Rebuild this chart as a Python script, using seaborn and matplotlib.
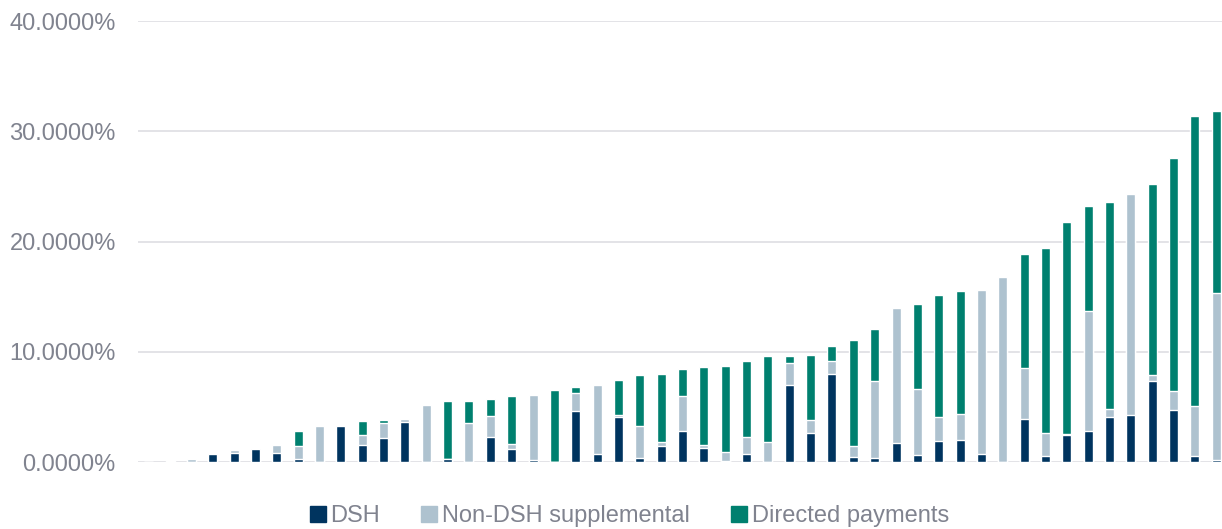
import numpy as np
import pandas as pd
import seaborn as sns
import matplotlib.pyplot as plt
import matplotlib.ticker as ticker
from matplotlib.patches import Patch

# Share of payments by component (percent), one entry per state, sorted by total
dsh = [0, 0, 0, 0.78, 0.87, 1.20, 0.82, 0.27, 0, 3.29,
       1.57, 2.18, 3.63, 0, 0.33, 0, 2.33, 1.21, 0.24, 0,
       4.65, 0.75, 4.08, 0.36, 1.51, 2.84, 1.30, 0.15, 0.75, 0.05,
       6.98, 2.69, 7.98, 0.48, 0.42, 1.72, 0.66, 1.93, 2.05, 0.78,
       0, 3.90, 0.60, 2.45, 2.84, 4.11, 4.29, 7.35, 4.77, 0.60,
       0.24]
non_dsh = [0, 0.10, 0.30, 0, 0.25, 0.04, 0.78, 1.21, 3.26, 0,
           0.90, 1.42, 0.27, 5.20, 0, 3.56, 1.87, 0.45, 5.84, 0,
           1.61, 6.23, 0.21, 2.93, 0.30, 3.17, 0.27, 0.79, 1.55, 1.79,
           2.02, 1.18, 1.21, 1.00, 6.95, 12.31, 5.96, 2.15, 2.30, 14.82,
           16.78, 4.68, 2.09, 0.15, 10.83, 0.69, 20.07, 0.54, 1.67, 4.50,
           15.12]
directed = [0, 0, 0, 0, 0, 0, 0, 1.36, 0, 0,
            1.28, 0.24, 0, 0, 5.20, 2.03, 1.54, 4.33, 0, 6.53,
            0.57, 0, 3.15, 4.64, 6.17, 2.42, 7.07, 7.76, 6.92, 7.80,
            0.64, 5.86, 1.36, 9.59, 4.75, 0, 7.74, 11.07, 11.19, 0,
            0, 10.31, 16.72, 19.22, 9.53, 18.81, 0, 17.31, 21.16, 26.28,
            16.50]

series_names = ['DSH', 'Non-DSH supplemental', 'Directed payments']
colors = ['#00345F', '#AEC2CF', '#00806F']
text_color = '#80838F'

df = pd.DataFrame({'state': range(len(dsh)), 'dsh': dsh, 'non_dsh': non_dsh, 'directed': directed})
df['top_non'] = df['dsh'] + df['non_dsh']
df['top_dp'] = df['top_non'] + df['directed']

sns.set_theme(style='white')
plt.rcParams['font.family'] = ['Liberation Sans', 'DejaVu Sans']

fig = plt.figure(figsize=(12.22, 5.29), dpi=100)
# plot area runs past the right edge of the picture, like the original
ax = fig.add_axes([138 / 1222, 1 - 462.3 / 529, 1089 / 1222, (462.3 - 21) / 529])

# stacked bars: draw the cumulative totals back to front
for col, c in zip(['top_dp', 'top_non', 'dsh'], colors[::-1]):
    sns.barplot(data=df, x='state', y=col, color=c, saturation=1, width=0.42,
                errorbar=None, ax=ax, zorder=3)

ax.set_xlim(-0.5, len(dsh) - 0.5)
ax.set_ylim(0, 40)
ax.set_yticks([0, 10, 20, 30, 40])
ax.yaxis.set_major_formatter(ticker.FuncFormatter(lambda v, p: f'{v:.4f}%'))
ax.set_xticks([])
ax.set_xlabel('')
ax.set_ylabel('')
ax.yaxis.grid(True, color='#DEDEE3', linewidth=1.2)
ax.set_axisbelow(True)
ax.tick_params(axis='y', length=0, pad=16, labelsize=17, labelcolor=text_color)
for s in ax.spines.values():
    s.set_visible(False)

handles = [Patch(color=c) for c in colors]
fig.legend(handles, series_names, loc='center', bbox_to_anchor=(0.515, 13 / 529),
           ncol=3, frameon=False, fontsize=17, handlelength=0.67, handleheight=0.67,
           handletextpad=0.2, columnspacing=1.75, labelcolor=text_color)

fig.savefig('out.png', dpi=100)
